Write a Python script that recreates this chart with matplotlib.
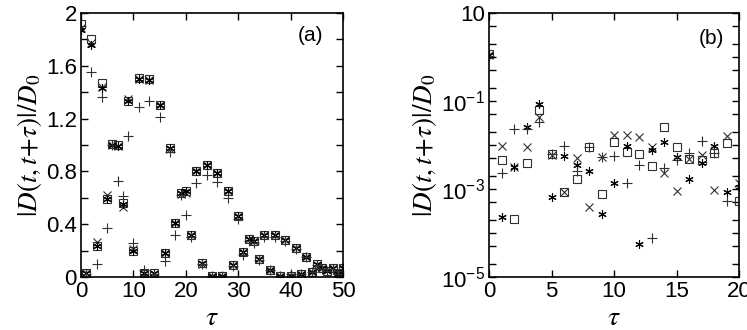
"""
Recreación de la figura |D(t,t+tau)|/D0 vs tau, paneles (a) lineal y (b) logarítmico.
"""

import numpy as np
import matplotlib
matplotlib.use("Agg")
import matplotlib.pyplot as plt
import matplotlib.ticker as ticker

plt.rcParams["font.family"] = ["Liberation Sans", "DejaVu Sans"]
plt.rcParams["mathtext.fontset"] = "stix"

# ── Datos panel (a) ──────────────────────────────────────────────────────────

tau_a = list(range(0, 51))

sq_a = [1.92, 0.03, 1.80, 0.235, 1.47, 0.59, 1.01, 1.00, 0.56, 1.33,
        0.20, 1.51, 0.03, 1.50, 0.03, 1.30, 0.18, 0.98, 0.41, 0.64,
        0.65, 0.32, 0.80, 0.105, 0.85, 0.01, 0.79, 0.01, 0.65, 0.09,
        0.46, 0.19, 0.285, 0.275, 0.14, 0.32, 0.05, 0.32, 0.01, 0.28,
        0.01, 0.22, 0.02, 0.155, 0.04, 0.095, 0.065, 0.045, 0.065, 0.02,
        0.065]
x_a = [1.89, 0.03, 1.77, 0.265, 1.44, 0.62, 1.00, 0.99, 0.53, 1.35,
       0.21, 1.50, 0.02, 1.49, 0.02, 1.30, 0.18, 0.97, 0.41, 0.63,
       0.64, 0.32, 0.80, 0.10, 0.85, 0.01, 0.79, 0.01, 0.65, 0.09,
       0.46, 0.19, 0.285, 0.27, 0.14, 0.32, 0.05, 0.32, 0.01, 0.28,
       0.01, 0.22, 0.02, 0.15, 0.04, 0.09, 0.065, 0.05, 0.065, 0.02,
       0.065]
ast_a = [1.87, 0.03, 1.76, 0.235, 1.43, 0.59, 1.00, 0.99, 0.55, 1.33,
         0.20, 1.50, 0.03, 1.49, 0.03, 1.30, 0.18, 0.98, 0.41, 0.64,
         0.65, 0.32, 0.80, 0.105, 0.85, 0.01, 0.79, 0.01, 0.65, 0.09,
         0.46, 0.19, 0.285, 0.275, 0.14, 0.32, 0.05, 0.32, 0.01, 0.28,
         0.01, 0.22, 0.02, 0.155, 0.04, 0.095, 0.065, 0.045, 0.065, 0.02,
         0.065]
plus_a = [1.90, 0.02, 1.55, 0.10, 1.36, 0.37, 1.00, 0.73, 0.61, 1.07,
          0.26, 1.29, 0.05, 1.335, 0.02, 1.21, 0.12, 0.95, 0.32, 0.62,
          0.47, 0.30, 0.71, 0.10, 0.77, 0.01, 0.72, 0.01, 0.60, 0.08,
          0.44, 0.17, 0.27, 0.26, 0.13, 0.30, 0.05, 0.30, 0.01, 0.27,
          0.02, 0.21, 0.02, 0.15, 0.04, 0.09, 0.06, 0.045, 0.06, 0.02,
          0.06]

# ── Datos panel (b) ──────────────────────────────────────────────────────────

tau_b = list(range(0, 21))

sq_b = [1.2, 0.0046, 0.00021, 0.0038, 0.062, 0.0062, 0.00087, 0.0017,
        0.0091, 0.00079, 0.012, 0.0071, 0.0062, 0.0033, 0.025, 0.0091,
        0.0048, 0.0046, 0.0066, 0.0113, 0.00052]
x_b = [1.1, 0.0096, 0.0032, 0.0091, 0.044, 0.0060, 0.00087, 0.0050,
       0.00038, 0.0054, 0.0165, 0.0165, 0.015, 0.0091, 0.0023, 0.0009,
       0.0048, 0.0059, 0.00095, 0.016, 0.0014]
ast_b = [1.1, 0.00023, 0.0032, 0.026, 0.084, 0.00067, 0.0056, 0.0035,
         0.0026, 0.00027, 0.0014, 0.0096, 5.6e-5, 0.0077, 0.0119, 0.0054,
         0.0017, 0.0040, 0.0096, 0.00087, 0.0011]
plus_b = [1.05, 0.0023, 0.023, 0.023, 0.034, 0.0062, 0.0096, 0.0026,
          0.0091, 0.0054, 0.0056, 0.0014, 0.0035, 7.6e-5, 0.0030, 0.0046,
          0.0066, 0.0125, 0.0066, 0.00054, 0.0012]

# ── Estilo ───────────────────────────────────────────────────────────────────

COL = "#303030"
ASTERISK = (6, 2, 0)
MS = 6
MEW = 0.8
TICK_FS = 16


def _draw_series(ax, tau, sq, xx, ast, pl):
    ax.plot(tau, sq, ls="none", marker="s", ms=MS, mfc="none", mec=COL, mew=MEW)
    ax.plot(tau, xx, ls="none", marker="x", ms=MS, mec=COL, mew=MEW)
    ax.plot(tau, ast, ls="none", marker=ASTERISK, ms=MS, mec="black", mew=MEW)
    ax.plot(tau, pl, ls="none", marker="+", ms=MS + 1, mec=COL, mew=MEW)


def _style_ax(ax):
    for sp in ax.spines.values():
        sp.set_linewidth(1.2)
    ax.tick_params(which="both", direction="in", top=True, right=True,
                   labelsize=TICK_FS, width=1.0, pad=3)
    ax.tick_params(which="major", length=5)
    ax.tick_params(which="minor", length=5)
    ax.set_xlabel(r"$\tau$", fontsize=20, labelpad=2)
    ax.set_ylabel(r"$|D(t,t\!+\!\tau)|/D_0$", fontsize=19.5, labelpad=1)


fig = plt.figure(figsize=(7.47, 3.30), dpi=100)

# Panel (a)
ax1 = fig.add_axes([81 / 747, 53 / 330, 262 / 747, 264 / 330])
_draw_series(ax1, tau_a, sq_a, x_a, ast_a, plus_a)
ax1.set_xlim(0, 50)
ax1.set_ylim(0, 2)
ax1.xaxis.set_major_locator(ticker.MultipleLocator(10))
ax1.yaxis.set_major_locator(ticker.MultipleLocator(0.4))
ax1.yaxis.set_minor_locator(ticker.MultipleLocator(0.2))
ax1.yaxis.set_major_formatter(ticker.FuncFormatter(lambda v, _: f"{v:g}"))
_style_ax(ax1)
ax1.text(0.875, 0.915, "(a)", transform=ax1.transAxes, fontsize=15,
         ha="center", va="center")

# Panel (b)
ax2 = fig.add_axes([489 / 747, 53 / 330, 250 / 747, 264 / 330])
_draw_series(ax2, tau_b, sq_b, x_b, ast_b, plus_b)
ax2.set_yscale("log")
ax2.set_xlim(0, 20)
ax2.set_ylim(1e-5, 10)
ax2.xaxis.set_major_locator(ticker.MultipleLocator(5))
ax2.yaxis.set_major_locator(ticker.LogLocator(base=10, numticks=20))
ax2.yaxis.set_minor_locator(ticker.LogLocator(base=10, subs=(2, 5), numticks=20))
ax2.yaxis.set_minor_formatter(ticker.NullFormatter())


def _log_fmt(v, _):
    k = int(round(np.log10(v)))
    if k % 2 == 0:
        return ""
    if k == 1:
        return "10"
    return r"$\mathregular{10^{%d}}$" % k


ax2.yaxis.set_major_formatter(ticker.FuncFormatter(_log_fmt))
_style_ax(ax2)
ax2.text(0.888, 0.905, "(b)", transform=ax2.transAxes, fontsize=15,
         ha="center", va="center")

fig.savefig("out.png", dpi=100)
